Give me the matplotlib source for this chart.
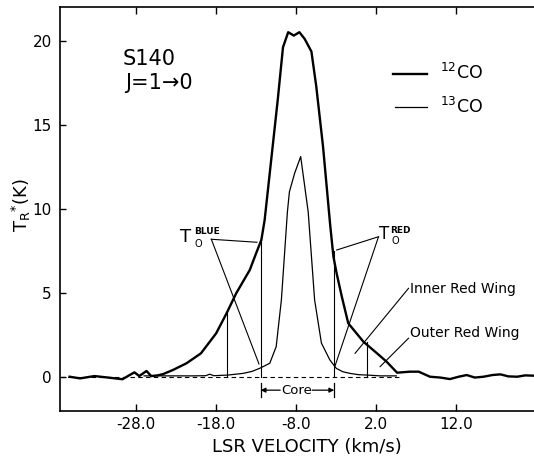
import matplotlib
matplotlib.use("Agg")
import matplotlib.pyplot as plt

# S140 J=1-0 spectra
v_12co = [-36.3, -35.0, -33.2, -31.5, -29.7, -28.8, -28.2, -27.6, -26.7, -26.1,
          -25.3, -24.6, -23.4, -21.7, -19.9, -18.0, -16.7, -15.5, -13.8, -13.0,
          -12.35, -11.94, -10.3, -9.65, -9.0, -8.3, -7.6, -6.94, -6.1, -5.5,
          -4.65, -3.75, -3.35, -2.95, -2.3, -1.5, 0.4, 2.1, 3.3, 4.6,
          6.2, 7.3, 8.7, 10.0, 11.2, 12.3, 13.3, 14.3, 15.4, 16.5,
          17.5, 18.5, 19.6, 20.6, 21.7]
t_12co = [0.0, -0.1, 0.04, -0.05, -0.15, 0.1, 0.26, 0.04, 0.34, 0.04,
          0.08, 0.16, 0.4, 0.8, 1.39, 2.58, 3.77, 4.96, 6.35, 7.35,
          8.14, 9.33, 16.5, 19.6, 20.5, 20.3, 20.5, 20.1, 19.35, 17.3,
          13.7, 9.0, 7.14, 6.15, 4.76, 3.18, 2.08, 1.39, 0.89, 0.24,
          0.3, 0.3, 0.0, -0.05, -0.14, 0.0, 0.1, -0.05, 0.0, 0.1,
          0.14, 0.02, 0.0, 0.08, 0.06]

v_13co = [-27.0, -24.0, -21.0, -19.3, -18.8, -18.3, -16.5, -14.6, -13.5, -12.56,
          -11.3, -10.5, -9.85, -9.1, -8.85, -8.2, -7.44, -6.5, -5.7, -4.85,
          -3.8, -3.0, -2.2, -1.3, -0.2, 0.8, 2.5, 4.5]
t_13co = [0.05, 0.05, 0.05, 0.06, 0.15, 0.06, 0.1, 0.2, 0.32, 0.5,
          0.8, 1.79, 4.57, 9.8, 11.0, 12.1, 13.1, 9.8, 4.57, 2.0,
          1.0, 0.5, 0.3, 0.2, 0.12, 0.1, 0.05, 0.05]

# velocity boundaries: outer blue, core blue, core red, outer red
bounds = [-16.6, -12.44, -3.25, 0.8]
bound_tops = [3.8, 8.24, 7.5, 2.08]

xticks = [-28.0, -18.0, -8.0, 2.0, 12.0]
xtick_labels = ["-28.0", "-18.0", "-8.0", "2.0", "12.0"]
yticks = [0, 5, 10, 15, 20]

W, H = 534, 459
fig = plt.figure(figsize=(W / 100, H / 100), dpi=100)
ax = fig.add_axes([60 / W, 48 / H, 1 - 60 / W, (411 - 7) / H])

ax.plot(v_12co, t_12co, color="black", lw=1.7, zorder=3)
ax.plot(v_13co, t_13co, color="black", lw=0.9, zorder=3)
ax.plot([-37.5, 5.0], [0, 0], color="black", lw=0.8, ls=(0, (4, 3)), zorder=2)

# wing / core boundaries
for b, top in zip(bounds, bound_tops):
    ax.plot([b, b], [0, top], color="black", lw=0.8)

# core bracket under the baseline
for b in bounds[1:3]:
    ax.plot([b, b], [-0.38, -1.22], color="black", lw=0.9, clip_on=False)
ax.annotate("", xy=(bounds[1], -0.8), xytext=(-10.0, -0.8),
            arrowprops=dict(arrowstyle="-|>", color="black", lw=0.9,
                            mutation_scale=7, shrinkA=0, shrinkB=0))
ax.annotate("", xy=(bounds[2], -0.8), xytext=(-6.0, -0.8),
            arrowprops=dict(arrowstyle="-|>", color="black", lw=0.9,
                            mutation_scale=7, shrinkA=0, shrinkB=0))
ax.text(-8.0, -0.82, "Core", ha="center", va="center", fontsize=9.5)

# T0 blue / red labels and pointers
ax.plot([-18.6, -12.9], [8.18, 8.0], color="black", lw=0.8)
ax.plot([-18.6, -12.65], [8.18, 0.76], color="black", lw=0.8)
ax.text(-21.8, 8.3, "T", ha="center", va="center", fontsize=13)
ax.text(-20.7, 8.62, "BLUE", ha="left", va="center", fontsize=6.5, fontweight="bold")
ax.text(-20.7, 7.87, "O", ha="left", va="center", fontsize=7)

ax.plot([2.28, -2.94], [8.33, 7.54], color="black", lw=0.8)
ax.plot([2.28, -3.15], [8.33, 0.64], color="black", lw=0.8)
ax.text(2.95, 8.5, "T", ha="center", va="center", fontsize=12)
ax.text(3.77, 8.68, "RED", ha="left", va="center", fontsize=6.5, fontweight="bold")
ax.text(3.9, 8.09, "O", ha="left", va="center", fontsize=7)

# wing labels
ax.plot([6.03, -0.65], [5.26, 1.39], color="black", lw=0.8)
ax.text(6.2, 5.22, "Inner Red Wing", ha="left", va="center", fontsize=10)
ax.plot([6.03, 2.48], [2.29, 0.6], color="black", lw=0.8)
ax.text(6.2, 2.59, "Outer Red Wing", ha="left", va="center", fontsize=10)

# title block
ax.text(-29.7, 18.88, "S140", ha="left", va="center", fontsize=15)
ax.text(-29.4, 17.45, "J=1\u21920", ha="left", va="center", fontsize=15)

# hand-drawn legend
ax.plot([4.15, 8.3], [18.02, 18.02], color="black", lw=1.7)
ax.text(9.9, 18.05, r"$^{12}$CO", ha="left", va="center", fontsize=12.5)
ax.plot([4.3, 8.3], [16.04, 16.04], color="black", lw=0.9)
ax.text(9.9, 16.08, r"$^{13}$CO", ha="left", va="center", fontsize=12.5)

ax.set_xlim(-37.5, 21.7)
ax.set_ylim(-2.04, 22.0)
ax.set_xticks(xticks)
ax.set_xticklabels(xtick_labels)
ax.set_yticks(yticks)
ax.tick_params(axis="x", direction="in", length=5, width=1.0, top=True,
               labelsize=11, pad=4)
ax.tick_params(axis="y", direction="in", length=4.5, width=1.0,
               labelsize=11, pad=6)
ax.spines["right"].set_visible(False)
for s in ["left", "top", "bottom"]:
    ax.spines[s].set_linewidth(1.2)

fig.text(21 / W, 1 - 205 / H, r"T$_\mathrm{R}{}^{*}$(K)", rotation=90,
         ha="center", va="center", fontsize=13)
fig.text(307 / W, 1 - 447 / H, "LSR VELOCITY (km/s)", ha="center",
         va="center", fontsize=13)

fig.savefig("out.png", dpi=100)
